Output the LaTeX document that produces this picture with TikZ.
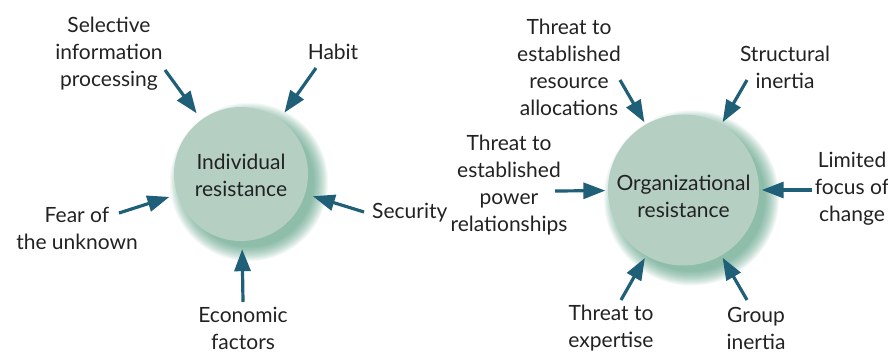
\documentclass[tikz,border=0pt]{standalone}
\usepackage{fontspec}
\setmainfont{Lato}
\usepackage{xcolor}
\usepackage{tikz}
\usetikzlibrary{calc,arrows.meta,positioning}
\definecolor{arrc}{HTML}{1F5F78}
\definecolor{discc}{HTML}{B5D0C3}
\definecolor{glowc}{HTML}{3E8E6E}
\definecolor{txtc}{HTML}{222222}
\tikzset{
  ar/.style={-{Triangle[length=22pt,width=16pt]},line width=3.2pt,arrc},
  disc/.style={circle,fill=discc,inner sep=0pt,minimum size=#1},
  lbl/.style={align=center,text=txtc,inner sep=0pt,font=\fontsize{21}{27}\selectfont}
}
% soft green halo, pushed towards the lower right
\newcommand{\halo}[2]{\foreach \k in {1,...,20}
  \fill[glowc,opacity=0.045] ($(#1)+(8,8)$) circle ({#2+13-0.75*\k});}

\begin{document}
\begin{tikzpicture}[x=1pt,y=-1pt]
\useasboundingbox (0,0) rectangle (888,352);
% individual side
\coordinate (ic) at (241,174);
\halo{ic}{67}
\node[disc=134pt] (ind) at (ic) {};
\node[lbl] at (241,175) {Individual\\resistance};
\node[lbl] (selt) at (109,54) {Selective\\information\\processing};
\node[lbl] (habt) at (333,52) {Habit};
\node[lbl,anchor=west] (sect) at (372,213) {Security};
\node[lbl] (feat) at (77,228) {Fear of\\the unknown};
\node[lbl] (ecot) at (243,328) {Economic\\factors};
\coordinate (sel) at (165,70);
\coordinate (hab) at (316,68);
\coordinate (sec) at (364,212);
\coordinate (fea) at (119,213);
\coordinate (eco) at (243,302);
\foreach \s in {sel,hab,sec,fea,eco}
  \draw[ar,shorten >=8pt] (\s) -- (ind);
% organizational side
\coordinate (oc) at (683.5,190);
\halo{oc}{75.5}
\node[disc=151pt] (org) at (oc) {};
\node[lbl] at (683.5,196) {Organizational\\resistance};
\node[lbl] (rest) at (569,67) {Threat to\\established\\resource\\allocations};
\node[lbl] (strt) at (785,67) {Structural\\inertia};
\node[lbl] (powt) at (509,185) {Threat to\\established\\power\\relationships};
\node[lbl] (limt) at (852,189) {Limited\\focus of\\change};
\node[lbl] (expt) at (611,328) {Threat to\\expertise};
\node[lbl] (grpt) at (756,328) {Group\\inertia};
\coordinate (res) at (620,80);
\coordinate (str) at (747,80);
\coordinate (pow) at (555,191);
\coordinate (lim) at (812,190);
\coordinate (exp) at (621,300);
\coordinate (grp) at (747,300);
\foreach \s in {res,str,pow,lim,exp,grp}
  \draw[ar,shorten >=2.5pt] (\s) -- (org);
\end{tikzpicture}
\end{document}
